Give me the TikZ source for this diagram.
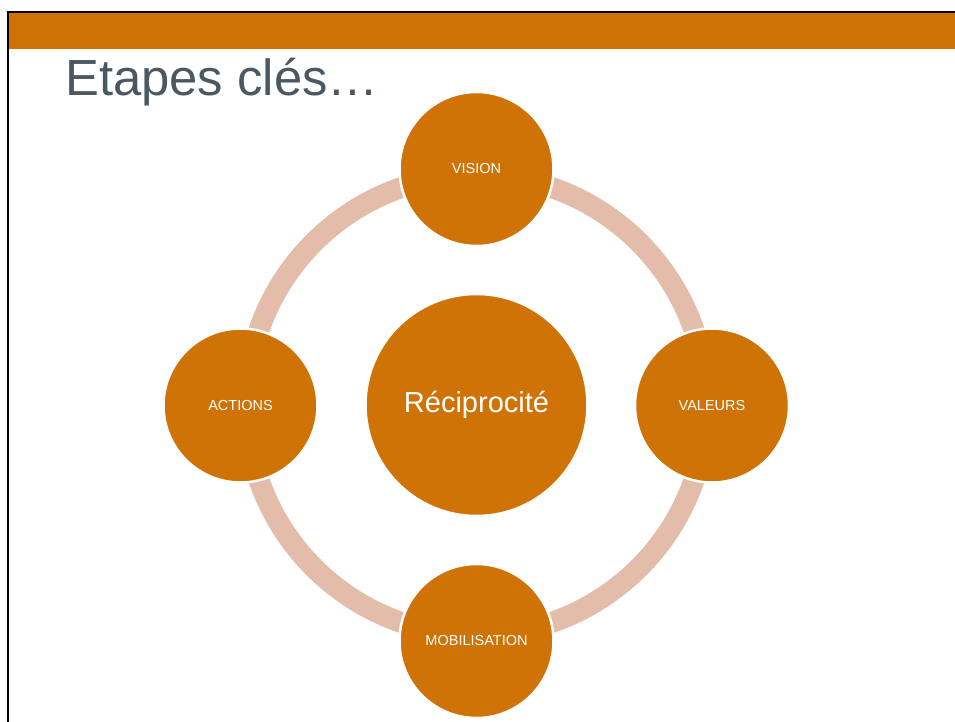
\documentclass[tikz,border=0pt]{standalone}
\usepackage{fontspec}
\setmainfont{Liberation Sans}
\definecolor{orng}{RGB}{207,115,6}
\definecolor{ringc}{RGB}{227,188,170}
\definecolor{titlec}{RGB}{75,88,98}
\tikzset{
  stepcirc/.style={circle, fill=orng, draw=white, line width=2.5pt, minimum size=154pt, inner sep=0pt, text=white, font=\fontsize{14.5}{16}\selectfont},
  bigcirc/.style={circle, fill=orng, draw=white, line width=2.5pt, minimum size=222pt, inner sep=0pt, text=white, font=\fontsize{29}{32}\selectfont},
}
\begin{document}
\begin{tikzpicture}[x=1pt,y=-1pt]
\useasboundingbox (0,0) rectangle (955,722);
\fill[orng] (8,13) rectangle (955,49);
\draw[black, line width=2.5pt] (8,722) -- (8,12) -- (955,12);
\node[anchor=base west, text=titlec, font=\fontsize{50.8}{56}\selectfont, inner sep=0pt] (title) at (65,96) {Etapes clés…};
\coordinate (c) at (476.5,405);
\draw[ringc, line width=21pt] (c) circle[radius=230];
\node[bigcirc] (center) at (c) {Réciprocité};
\node[stepcirc] (vision) at (476.5,169) {VISION};
\node[stepcirc] (valeurs) at (712,405.5) {VALEURS};
\node[stepcirc] (mobil) at (476.5,641) {MOBILISATION};
\node[stepcirc] (actions) at (240.5,405.5) {ACTIONS};
\end{tikzpicture}
\end{document}
